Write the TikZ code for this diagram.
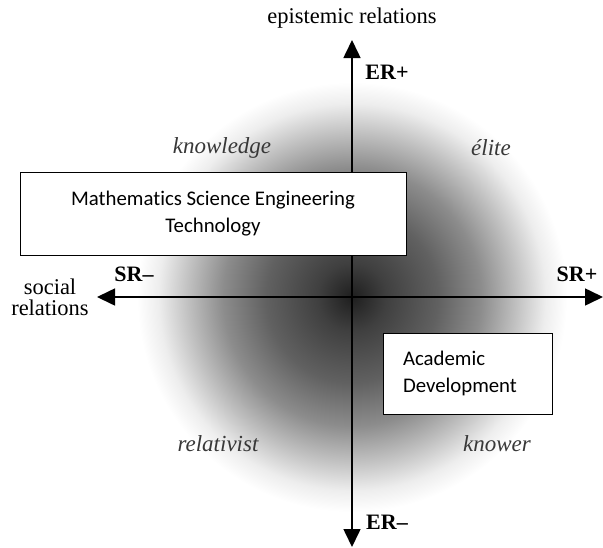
\documentclass[tikz,border=0pt]{standalone}
\usepackage{fontspec}
\setmainfont{Liberation Serif}
\newfontfamily\boxfont[Ligatures=NoCommon]{Carlito}
\usetikzlibrary{arrows.meta}
\pgfdeclareradialshading{glow}{\pgfpoint{0bp}{0bp}}{%
  color(0bp)=(black!88); color(4bp)=(black!75); color(10bp)=(black!62);
  color(15bp)=(black!45); color(19bp)=(black!25); color(22.5bp)=(black!7);
  color(25bp)=(white); color(50bp)=(white)}
\begin{document}
\begin{tikzpicture}[
  x=1pt, y=-1pt,
  axis/.style={{Triangle[length=18pt,width=17pt]}-{Triangle[length=18pt,width=17pt]}, line width=1.6pt},
  axlabel/.style={font=\fontsize{22.5}{21}\selectfont, align=center},
  pole/.style={font=\fontsize{22}{24}\selectfont\bfseries},
  quadrant/.style={font=\fontsize{23}{24}\selectfont\itshape, text=black!78},
  box/.style={draw, line width=0.9pt, fill=white, font=\boxfont\fontsize{20.8}{27}\selectfont},
]
\useasboundingbox (0,0) rectangle (603,547);
% shading round the origin
\shade[shading=glow] (352,297) circle (215);
% axes
\coordinate (srMinus) at (97,297);
\coordinate (srPlus)  at (603,297);
\coordinate (erPlus)  at (352,40);
\coordinate (erMinus) at (352,547);
\draw[axis] (srMinus) -- (srPlus);
\draw[axis] (erMinus) -- (erPlus);
% axis names and poles
\node[axlabel] (epist) at (352,18) {epistemic relations};
\node[axlabel, inner sep=1pt] (social) at (50,297) {social\\relations};
\node[pole] (erP) at (387,72) {ER+};
\node[pole] (erM) at (387,522) {ER--};
\node[pole] (srM) at (134,274) {SR--};
\node[pole] (srP) at (577,274) {SR+};
% quadrants
\node[quadrant] (knowledge) at (222,148) {knowledge};
\node[quadrant] (elite) at (491,148) {élite};
\node[quadrant] (relativist) at (218,444) {relativist};
\node[quadrant] (knower) at (497,444) {knower};
% boxes
\node[box, minimum width=386pt, minimum height=83pt, align=center]
  (mset) at (213,213.5) {Mathematics Science Engineering\\Technology};
\node[box, minimum width=169pt, minimum height=81pt, inner xsep=20pt,
  text width=129pt, align=left] (acdev) at (467.5,373.5) {Academic\\Development};
\end{tikzpicture}
\end{document}
